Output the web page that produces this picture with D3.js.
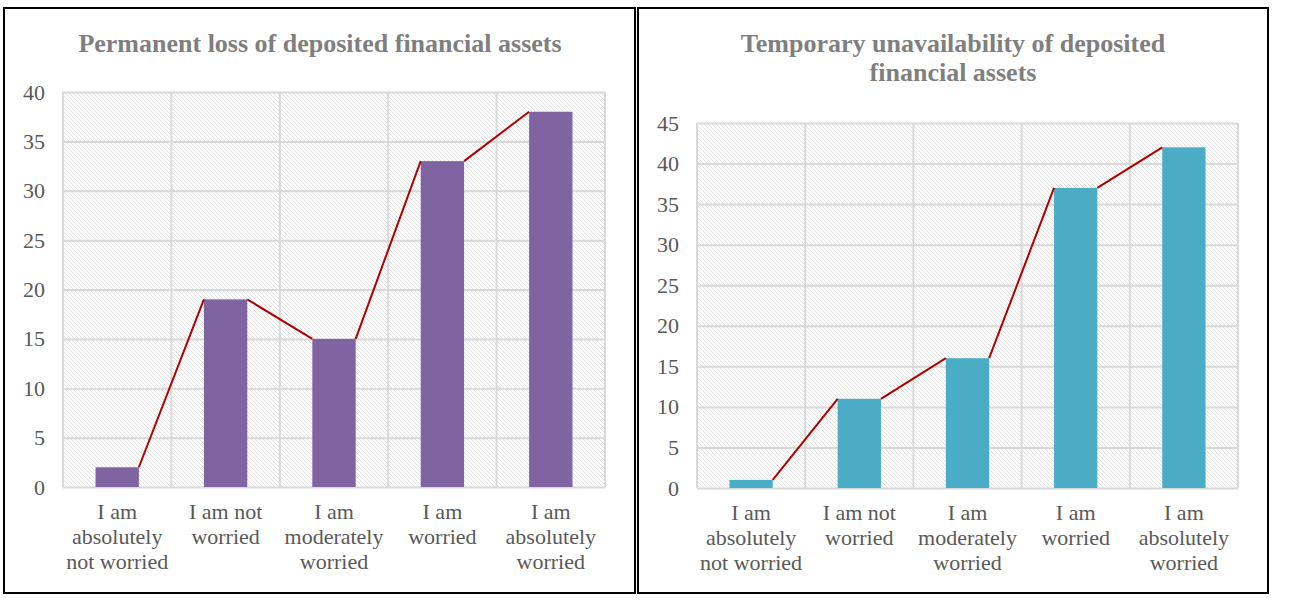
<!DOCTYPE html>
<html>
<head>
<meta charset="utf-8">
<script src="https://cdn.jsdelivr.net/npm/d3@7"></script>
<style>
  body { margin: 0; background: #fff; }
  svg { display: block; }
</style>
</head>
<body>
<div id="chart"></div>
<script>
// categories (label lines)
const categories = ['abs_not', 'not', 'moderately', 'worried', 'abs_worried'];
const categoryLabels = [
  ['I am', 'absolutely', 'not worried'],
  ['I am not', 'worried'],
  ['I am', 'moderately', 'worried'],
  ['I am', 'worried'],
  ['I am', 'absolutely', 'worried']
];

// series values
const permanentLoss = [2, 19, 15, 33, 38];
const temporaryUnavailability = [1, 11, 16, 37, 42];

// y tick labels
const ticksLeft = [0, 5, 10, 15, 20, 25, 30, 35, 40];
const ticksRight = [0, 5, 10, 15, 20, 25, 30, 35, 40, 45];

const titleLeft = ['Permanent loss of deposited financial assets'];
const titleRight = ['Temporary unavailability of deposited', 'financial assets'];

const serif = '"Liberation Serif", "Times New Roman", serif';

const svg = d3.select('#chart').append('svg').attr('width', 1290).attr('height', 605);

// hatch pattern for plot background
const defs = svg.append('defs');
const pat = defs.append('pattern')
  .attr('id', 'hatch')
  .attr('patternUnits', 'userSpaceOnUse')
  .attr('width', 4).attr('height', 4);
pat.append('path')
  .attr('d', 'M-1,-1 L5,5 M-1,3 L1,5 M3,-1 L5,1')
  .attr('stroke', '#dadada')
  .attr('stroke-width', 0.8);

function drawPanel(opts) {
  const g = svg.append('g');

  // outer frame
  g.append('rect')
    .attr('x', opts.frame[0]).attr('y', opts.frame[1])
    .attr('width', opts.frame[2]).attr('height', opts.frame[3])
    .attr('fill', '#fff').attr('stroke', '#000').attr('stroke-width', 2);

  const left = opts.plot[0], right = opts.plot[1], top = opts.plot[2], bottom = opts.plot[3];

  const x = d3.scaleBand().domain(categories).range([left, right]).paddingInner(0.6).paddingOuter(0.3);
  const xCat = d3.scaleBand().domain(categories).range([left, right]).padding(0);
  const y = d3.scaleLinear().domain([0, opts.max]).range([bottom, top]);

  // plot background hatch
  g.append('rect')
    .attr('x', left).attr('y', top)
    .attr('width', right - left).attr('height', bottom - top)
    .attr('fill', 'url(#hatch)');

  // horizontal gridlines + tick labels
  const yAxis = d3.axisLeft(y).tickValues(opts.ticks).tickSize(-(right - left)).tickPadding(18);
  const ya = g.append('g').attr('transform', `translate(${left},0)`).call(yAxis);
  ya.select('.domain').remove();
  ya.selectAll('line').attr('stroke', '#d9d9d9').attr('stroke-width', 2);
  ya.selectAll('text')
    .attr('font-family', serif)
    .attr('font-size', 22)
    .attr('fill', '#595959');

  // vertical gridlines at category boundaries
  const bounds = categories.map(c => xCat(c)).concat([right]);
  g.selectAll('.vgrid').data(bounds).enter().append('line')
    .attr('x1', d => d).attr('x2', d => d)
    .attr('y1', top).attr('y2', bottom)
    .attr('stroke', '#d9d9d9').attr('stroke-width', 2);

  // bars
  g.selectAll('.bar').data(opts.values).enter().append('rect')
    .attr('x', (d, i) => x(categories[i]))
    .attr('y', d => y(d))
    .attr('width', x.bandwidth())
    .attr('height', d => y(0) - y(d))
    .attr('fill', opts.color);

  // series lines: right top of bar to left top of next bar
  const segs = d3.range(opts.values.length - 1).map(i => [
    [x(categories[i]) + x.bandwidth(), y(opts.values[i])],
    [x(categories[i + 1]), y(opts.values[i + 1])]
  ]);
  g.selectAll('.sline').data(segs).enter().append('line')
    .attr('x1', d => d[0][0]).attr('y1', d => d[0][1])
    .attr('x2', d => d[1][0]).attr('y2', d => d[1][1])
    .attr('stroke', '#b00000').attr('stroke-width', 2);

  // category labels
  categoryLabels.forEach((lines, i) => {
    const cx = xCat(categories[i]) + xCat.bandwidth() / 2;
    const t = g.append('text')
      .attr('x', cx)
      .attr('y', bottom + 32)
      .attr('text-anchor', 'middle')
      .attr('font-family', serif)
      .attr('font-size', 22)
      .attr('fill', '#595959');
    lines.forEach((l, j) => {
      t.append('tspan').attr('x', cx).attr('dy', j === 0 ? 0 : 25).text(l);
    });
  });

  // title
  const tt = g.append('text')
    .attr('x', opts.titleX).attr('y', 52)
    .attr('text-anchor', 'middle')
    .attr('font-family', serif)
    .attr('font-weight', 'bold')
    .attr('font-size', 26)
    .attr('fill', '#7f7f7f');
  opts.title.forEach((l, j) => {
    tt.append('tspan').attr('x', opts.titleX).attr('dy', j === 0 ? 0 : 29).text(l);
  });
}

drawPanel({
  frame: [4, 8, 631, 585],
  plot: [63, 605, 92, 487],
  max: 40,
  ticks: ticksLeft,
  values: permanentLoss,
  color: '#8064a2',
  title: titleLeft,
  titleX: 320
});

drawPanel({
  frame: [638, 8, 630, 585],
  plot: [697, 1238, 123, 488],
  max: 45,
  ticks: ticksRight,
  values: temporaryUnavailability,
  color: '#4bacc6',
  title: titleRight,
  titleX: 953
});
</script>
</body>
</html>
